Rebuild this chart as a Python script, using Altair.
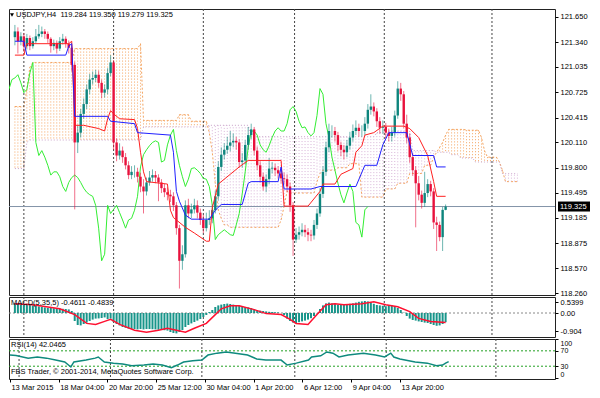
import altair as alt
import pandas as pd

# ---------------- data ----------------
closes = [121.47, 121.35, 121.41, 121.29, 121.39, 121.29, 121.35, 121.41, 121.44, 121.47,
          121.44, 121.38, 121.29, 121.33, 121.26, 121.35, 121.38, 121.32, 121.27, 121.06,
          120.11, 120.23, 120.46, 120.58, 120.76, 120.88, 120.90, 120.94, 120.84, 120.72,
          120.76, 120.96, 121.09, 120.11, 119.95, 120.01, 119.93, 119.83, 119.71, 119.75,
          119.75, 119.69, 119.57, 119.51, 119.62, 119.68, 119.71, 119.68, 119.62, 119.55,
          119.50, 119.47, 119.45, 119.34, 119.06, 118.66, 118.74, 119.34, 119.24, 119.29,
          119.34, 119.25, 119.16, 119.06, 119.16, 119.18, 119.28, 119.45, 119.81, 119.96,
          120.02, 120.07, 120.11, 120.13, 120.11, 119.87, 119.89, 120.08, 120.20, 120.27,
          120.01, 119.83, 119.69, 119.57, 119.66, 119.79, 119.80, 119.77, 119.73, 119.67,
          119.66, 119.57, 119.34, 118.92, 118.98, 119.01, 119.04, 119.01, 118.98, 118.97,
          119.10, 119.24, 119.48, 119.75, 120.05, 120.25, 120.25, 120.20, 120.08, 120.02,
          119.99, 120.07, 120.17, 120.25, 120.29, 120.25, 120.25, 120.34, 120.51, 120.55,
          120.49, 120.37, 120.29, 120.30, 120.23, 120.19, 120.23, 120.44, 120.77, 120.70,
          120.34, 120.17, 119.93, 119.77, 119.61, 119.47, 119.37, 119.49, 119.60, 119.51,
          119.13, 119.10, 118.95, 119.284, 119.325]
opens = [121.40, 121.47, 121.35, 121.41, 121.29, 121.39, 121.29, 121.35, 121.41, 121.44,
         121.47, 121.44, 121.38, 121.29, 121.33, 121.26, 121.35, 121.38, 121.32, 121.27,
         121.06, 120.11, 120.23, 120.46, 120.58, 120.76, 120.88, 120.90, 120.94, 120.84,
         120.72, 120.76, 120.96, 121.09, 120.11, 119.95, 120.01, 119.93, 119.83, 119.71,
         119.75, 119.75, 119.69, 119.57, 119.51, 119.62, 119.68, 119.71, 119.68, 119.62,
         119.55, 119.50, 119.47, 119.45, 119.34, 119.06, 118.66, 118.74, 119.34, 119.24,
         119.29, 119.34, 119.25, 119.16, 119.06, 119.16, 119.18, 119.28, 119.45, 119.81,
         119.96, 120.02, 120.07, 120.11, 120.13, 120.11, 119.87, 119.89, 120.08, 120.20,
         120.27, 120.01, 119.83, 119.69, 119.57, 119.66, 119.79, 119.80, 119.77, 119.73,
         119.67, 119.66, 119.57, 119.34, 118.92, 118.98, 119.01, 119.04, 119.01, 118.98,
         118.97, 119.10, 119.24, 119.48, 119.75, 120.05, 120.25, 120.25, 120.20, 120.08,
         120.02, 119.99, 120.07, 120.17, 120.25, 120.29, 120.25, 120.25, 120.34, 120.51,
         120.55, 120.49, 120.37, 120.29, 120.30, 120.23, 120.19, 120.23, 120.44, 120.77,
         120.70, 120.34, 120.17, 119.93, 119.77, 119.61, 119.47, 119.37, 119.49, 119.60,
         119.51, 119.13, 119.10, 118.95, 119.284]
highs = [121.55, 121.52, 121.46, 121.45, 121.44, 121.42, 121.40, 121.50, 121.55, 121.53,
         121.50, 121.47, 121.40, 121.37, 121.36, 121.40, 121.44, 121.41, 121.36, 121.30,
         121.10, 120.32, 120.52, 120.65, 120.82, 120.95, 120.98, 121.00, 120.99, 120.88,
         120.82, 121.02, 121.18, 121.12, 120.16, 120.10, 120.06, 119.98, 119.88, 119.82,
         119.83, 119.80, 119.74, 119.66, 119.68, 119.76, 119.78, 119.76, 119.72, 119.66,
         119.60, 119.56, 119.53, 119.50, 119.38, 119.10, 118.85, 119.40, 119.42, 119.36,
         119.42, 119.40, 119.30, 119.22, 119.25, 119.28, 119.35, 119.52, 119.88, 120.05,
         120.10, 120.18, 120.25, 120.22, 120.18, 120.15, 119.98, 120.14, 120.30, 120.34,
         120.30, 120.06, 119.88, 119.74, 119.72, 119.92, 119.87, 119.85, 119.82, 119.78,
         119.74, 119.72, 119.62, 119.38, 119.06, 119.08, 119.12, 119.10, 119.06, 119.04,
         119.16, 119.30, 119.55, 119.82, 120.12, 120.34, 120.32, 120.30, 120.24, 120.12,
         120.08, 120.14, 120.24, 120.33, 120.38, 120.34, 120.32, 120.42, 120.58, 120.70,
         120.60, 120.53, 120.42, 120.38, 120.35, 120.28, 120.30, 120.50, 120.86, 120.84,
         120.74, 120.45, 120.22, 119.98, 119.82, 119.70, 119.52, 119.75, 119.66, 119.64,
         119.55, 119.20, 119.14, 119.32, 119.350]
lows = [121.30, 121.20, 121.30, 121.22, 121.25, 121.24, 121.26, 121.32, 121.38, 121.40,
        121.38, 121.33, 121.21, 121.24, 121.20, 121.23, 121.31, 121.27, 121.20, 120.98,
        119.29, 119.98, 120.17, 120.40, 120.52, 120.70, 120.82, 120.85, 120.78, 120.65,
        120.66, 120.70, 120.92, 120.02, 119.88, 119.90, 119.86, 119.78, 119.66, 119.66,
        119.68, 119.62, 119.50, 119.24, 119.46, 119.58, 119.63, 119.61, 119.39, 119.49,
        119.44, 119.40, 119.38, 119.27, 118.98, 118.32, 118.55, 118.70, 119.18, 119.18,
        119.24, 119.18, 119.10, 119.00, 119.02, 119.10, 119.12, 119.24, 119.40, 119.76,
        119.90, 119.97, 120.00, 120.05, 120.02, 119.80, 119.80, 119.84, 120.02, 120.15,
        119.95, 119.77, 119.62, 119.52, 119.50, 119.60, 119.73, 119.70, 119.67, 119.61,
        119.60, 119.50, 119.26, 118.72, 118.88, 118.92, 118.96, 118.95, 118.90, 118.90,
        118.92, 119.05, 119.20, 119.43, 119.70, 119.99, 120.17, 120.12, 120.00, 119.94,
        119.90, 119.93, 120.02, 120.12, 120.20, 120.18, 120.18, 120.20, 120.28, 120.45,
        120.43, 120.30, 120.22, 120.22, 120.16, 120.12, 120.12, 120.18, 120.40, 120.62,
        120.28, 120.10, 119.86, 119.70, 119.07, 119.40, 119.30, 119.32, 119.44, 119.45,
        119.05, 118.78, 118.90, 118.78, 119.279]
bar_index = list(range(len(closes)))

# Ichimoku lines (bar index, price)
tenkan_bar = [0, 3, 4, 18, 19, 20, 23, 28, 30, 31, 32, 33, 35, 40, 41, 42, 43, 44, 51, 52,
              53, 57, 60, 64, 65, 66, 68, 72, 75, 78, 89, 90, 98, 102, 103, 107, 109, 113, 114, 116,
              117, 120, 123, 130, 132, 135, 138, 140, 141, 144]
tenkan_val = [121.18, 121.18, 121.32, 121.32, 121.35, 120.32, 120.32, 120.28, 120.25, 120.40,
              120.50, 120.46, 120.40, 120.39, 120.28, 119.99, 119.75, 119.63, 119.60, 119.28,
              119.19, 119.07, 119.00, 118.90, 118.90, 119.31, 119.60, 119.72, 119.81, 119.89,
              119.89, 119.33, 119.33, 119.51, 119.60, 119.60, 119.72, 119.79, 119.99, 120.07,
              120.20, 120.23, 120.31, 120.31, 120.28, 120.17, 119.95, 119.63, 119.45, 119.45]
kijun_bar = [0, 3, 4, 17, 18, 19, 20, 31, 32, 40, 41, 52, 53, 54, 55, 57, 59, 65, 67, 69,
             76, 78, 79, 88, 89, 90, 99, 102, 114, 117, 121, 123, 125, 131, 133, 140, 141, 144]
kijun_val = [121.35, 121.35, 121.18, 121.18, 121.29, 121.32, 120.43, 120.43, 120.37, 120.34,
             120.23, 120.20, 119.99, 119.51, 119.39, 119.22, 119.17, 119.17, 119.28, 119.35,
             119.35, 119.61, 119.63, 119.63, 119.81, 119.54, 119.54, 119.57, 119.57, 119.83,
             119.83, 120.08, 120.23, 120.23, 119.95, 119.95, 119.81, 119.81]
CHIKOU_SHIFT = 26

# Senkou spans, one value per bar (flat runs read as repeats)
span_a = ([120.55] * 4 + [120.76, 121.03] + [121.09] * 14 + [121.26] * 22 + [121.32]
          + [120.38] * 12 + [120.45] * 4 + [120.37] * 6
          + [120.23, 119.99, 119.60, 119.28, 119.18] + [119.10] * 2 + [119.07] * 17
          + [119.16, 119.33, 119.51] + [119.49] * 9 + [119.63, 119.73] + [119.77] * 5
          + [119.80] * 4 + [119.85] * 4 + [119.44] * 8 + [119.54] * 4 + [119.61] * 4 + [119.73] * 5
          + [119.83] * 3 + [119.93, 119.99, 120.05, 120.11, 120.20] + [120.27] * 6 + [120.26] * 5
          + [120.17, 120.01] + [119.93] * 4 + [119.87, 119.77] + [119.63] * 5)
span_b = ([119.79] * 4 + [120.11] + [120.14] * 38 + [120.30] * 22 + [120.32] * 14 + [120.18] * 42
          + [120.23] * 3 + [120.25] * 9 + [120.01] * 8 + [119.99] * 5 + [119.96] * 3 + [119.92] * 5
          + [119.87] * 9 + [119.73] * 6)

grid_bars = [3, 33, 63, 93.5, 123.5, 159.5]
price_ticks = [121.650, 121.340, 121.035, 120.725, 120.415, 120.110,
               119.800, 119.495, 119.185, 118.875, 118.570, 118.260]
last_price = [119.325]
header_main = "USDJPY,H4\u00a0\u00a0119.284 119.350 119.279 119.325"

macd_main = [0.48, 0.47, 0.46, 0.45, 0.42, 0.40, 0.38, 0.36, 0.33, 0.30,
             0.28, 0.26, 0.25, 0.24, 0.22, 0.22, 0.21, 0.20, 0.18, 0.10,
             -0.40, -0.60, -0.62, -0.55, -0.48, -0.40, -0.33, -0.28, -0.27, -0.25,
             -0.22, -0.30, -0.28, -0.45, -0.55, -0.62, -0.70, -0.74, -0.78, -0.80,
             -0.80, -0.82, -0.80, -0.82, -0.80, -0.80, -0.81, -0.82, -0.84, -0.85,
             -0.86, -0.88, -0.95, -1.00, -1.02, -0.95, -0.85, -0.70, -0.60, -0.52,
             -0.45, -0.38, -0.30, -0.20, -0.10, 0.05, 0.15, 0.30, 0.38, 0.42,
             0.45, 0.47, 0.45, 0.42, 0.40, 0.36, 0.33, 0.30, 0.28, 0.25,
             0.20, 0.15, 0.12, 0.10, 0.08, 0.06, 0.05, 0.04, 0.03, 0.0,
             -0.10, -0.28, -0.40, -0.48, -0.50, -0.46, -0.42, -0.38, -0.33, -0.26,
             -0.15, -0.02, 0.20, 0.38, 0.48, 0.52, 0.48, 0.45, 0.42, 0.43,
             0.44, 0.45, 0.46, 0.48, 0.52, 0.56, 0.58, 0.60, 0.58, 0.52,
             0.46, 0.40, 0.38, 0.36, 0.34, 0.40, 0.38, 0.32, 0.25, 0.15,
             0.02, -0.15, -0.28, -0.35, -0.38, -0.42, -0.45, -0.48, -0.50, -0.55,
             -0.60, -0.64, -0.62, -0.55, -0.46]
signal_bar = [0, 6, 15, 20, 24, 27, 30, 32, 35, 40, 44, 48, 51, 54, 57, 60, 64, 67, 69, 72,
              75, 80, 84, 89, 92, 94, 98, 101, 104, 107, 110, 116, 120, 124, 128, 132, 135, 139, 144]
signal_val = [0.46, 0.41, 0.21, -0.08, -0.52, -0.57, -0.42, -0.32, -0.57, -0.86,
              -0.96, -0.86, -0.76, -0.86, -0.96, -0.76, -0.52, -0.08, 0.21, 0.36,
              0.36, 0.17, -0.03, -0.08, -0.32, -0.52, -0.57, -0.08, 0.41, 0.46,
              0.41, 0.46, 0.56, 0.41, 0.31, 0.07, -0.27, -0.42, -0.48]
macd_ticks = [0.5399, 0.0, -0.904]
macd_tick_labels = ["0.5399", "0.00", "-0.904"]
header_macd = "MACD(5,35,5) -0.4611 -0.4839"

rsi_bar = [0, 2, 6, 9, 12, 15, 18, 20, 21, 25, 28, 29, 31, 34, 37, 40, 44, 47, 50, 53,
           55, 57, 60, 63, 65, 68, 71, 74, 78, 81, 84, 89, 91, 94, 98, 99, 102, 104, 106, 108,
           111, 116, 120, 123, 125, 126, 128, 133, 137, 140, 142, 143, 144]
rsi_val = [59, 58, 51, 54, 51, 46, 41, 28, 41, 46, 51, 54, 41, 38, 36, 31, 33, 36, 33, 26,
           33, 41, 44, 46, 59, 64, 67, 64, 59, 49, 46, 46, 33, 38, 46, 54, 57, 67, 64, 54,
           59, 64, 59, 54, 64, 54, 49, 41, 38, 31, 33, 38, 42.05]
rsi_levels = [70, 30]
rsi_ticks = [100, 70, 30, 0]
header_rsi = "RSI(14) 42.0465"
copyright_text = "FBS Trader, \u00a9 2001-2014, MetaQuotes Software Corp."

time_ticks = [0, 16, 32, 48, 64, 80, 96, 112, 128]
time_labels = ["13 Mar 2015", "18 Mar 04:00", "20 Mar 20:00", "25 Mar 12:00", "30 Mar 04:00",
               "1 Apr 20:00", "6 Apr 12:00", "9 Apr 04:00", "13 Apr 20:00"]

# ---------------- styling ----------------
W = 546
H_MAIN, H_MACD, H_RSI = 286, 40, 40
FONT = "Liberation Sans"
FS = 7.5
BULL, BEAR = "#0e857d", "#e8113c"
SANDY, THISTLE = "#f4a460", "#d8b4d8"
GRID_C = "#444444"


def label_expr(values, labels):
    expr = "''"
    for v, s in reversed(list(zip(values, labels))):
        expr = f"abs(datum.value - ({v})) < 1e-6 ? '{s}' : {expr}"
    return expr


xs = alt.Scale(domain=[-0.3, 178.9], nice=False, zero=False)
ys_main = alt.Scale(domain=[118.241, 121.745], nice=False, zero=False)
ys_macd = alt.Scale(domain=[-1.2, 0.8], nice=False, zero=False)
ys_rsi = alt.Scale(domain=[-3.3, 100.8], nice=False, zero=False)

# axis definitions (one object per panel, repeated in each layer so the merge keeps them)
price_axis = alt.Axis(orient="right", values=price_ticks, format=".3f", title=None,
                      tickSize=3, labelPadding=2, domain=False, grid=False, labelOverlap=False)
macd_axis = alt.Axis(orient="right", values=macd_ticks, labelExpr=label_expr(macd_ticks, macd_tick_labels),
                     title=None, tickSize=3, labelPadding=2, domain=False, grid=False, labelOverlap=False)
rsi_axis = alt.Axis(orient="right", values=rsi_ticks, title=None, tickSize=3, labelPadding=2,
                    domain=False, grid=False, labelOverlap=False, labelFontSize=7, labelFlush=6)
time_axis = alt.Axis(values=time_ticks, labelExpr=label_expr(time_ticks, time_labels), labelAlign="left",
                     labelBaseline="top", tickSize=3, labelPadding=1, labelOffset=1, domain=False, grid=False,
                     title=None, labelOverlap=False, labelFlush=False)


def X(field, axis=None):
    return alt.X(f"{field}:Q", scale=xs, axis=axis)


def YM(field):
    return alt.Y(f"{field}:Q", scale=ys_main, axis=price_axis)


def txt(text, x, y, color="black"):
    return alt.Chart(pd.DataFrame({"t": [text]})).mark_text(
        align="left", baseline="middle", font=FONT, fontSize=FS, color=color
    ).encode(x=alt.value(x), y=alt.value(y), text="t:N")


grid_df = pd.DataFrame({"g": grid_bars})


def vgrid(axis=None):
    return alt.Chart(grid_df).mark_rule(color=GRID_C, strokeDash=[2, 2], strokeWidth=1).encode(x=X("g", axis))


# ---------------- main panel ----------------
candles = pd.DataFrame({"i": bar_index, "o": opens, "h": highs, "l": lows, "c": closes})
candles["dir"] = ["up" if c >= o else "down" for o, c in zip(opens, closes)]
dir_color = alt.Color("dir:N", scale=alt.Scale(domain=["up", "down"], range=[BULL, BEAR]), legend=None)

cloud = pd.DataFrame({"i": list(range(len(span_a))), "a": span_a, "b": span_b})
cloud["kind"] = ["bull" if a >= b else "bear" for a, b in zip(span_a, span_b)]
price_df = pd.DataFrame({"p": last_price})

cloud_rules = alt.Chart(cloud).mark_rule(strokeWidth=1, strokeDash=[1, 2], clip=True).encode(
    x=X("i"), y=YM("a"), y2="b:Q",
    stroke=alt.Stroke("kind:N", scale=alt.Scale(domain=["bull", "bear"], range=[SANDY, THISTLE]), legend=None))
a_line = alt.Chart(cloud).mark_line(strokeWidth=1, strokeDash=[2, 2], color=SANDY, clip=True).encode(
    x=X("i"), y=YM("a"))
b_line = alt.Chart(cloud).mark_line(strokeWidth=1, strokeDash=[1, 2], color="#c8a0c8", clip=True).encode(
    x=X("i"), y=YM("b"))

price_line = alt.Chart(price_df).mark_rule(color="#8494a8", strokeWidth=1).encode(y=YM("p"))

chikou = alt.Chart(candles).transform_calculate(ci=f"datum.i - {CHIKOU_SHIFT}").mark_line(
    color="#33ee33", strokeWidth=1, clip=True).encode(x=X("ci"), y=YM("c"))

wicks = alt.Chart(candles).mark_rule(strokeWidth=1, opacity=0.6, clip=True).encode(
    x=X("i"), y=YM("l"), y2="h:Q", color=dir_color)
bodies = alt.Chart(candles).mark_bar(size=2.4, clip=True).encode(
    x=X("i"), y=YM("o"), y2="c:Q", color=dir_color)

tenkan = alt.Chart(pd.DataFrame({"i": tenkan_bar, "v": tenkan_val})).mark_line(
    color="#ff2020", strokeWidth=1, clip=True).encode(x=X("i"), y=YM("v"))
kijun = alt.Chart(pd.DataFrame({"i": kijun_bar, "v": kijun_val})).mark_line(
    color="#2020ff", strokeWidth=1, clip=True).encode(x=X("i"), y=YM("v"))

price_box = alt.Chart(price_df).mark_point(
    shape="M-1,-0.3125H1V0.3125H-1Z", filled=True, size=1024, color="black", opacity=1).encode(
    x=alt.value(W + 19), y=YM("p"))
price_box_text = alt.Chart(price_df).transform_calculate(t="format(datum.p, '.3f')").mark_text(
    align="left", baseline="middle", font=FONT, fontSize=FS, color="white").encode(
    x=alt.value(W + 5), y=YM("p"), text="t:N")

tri = alt.Chart(pd.DataFrame({"t": [0]})).mark_point(
    shape="triangle-down", filled=True, size=16, color="black", opacity=1).encode(
    x=alt.value(3), y=alt.value(6))

main = alt.layer(
    cloud_rules, a_line, b_line, vgrid(), price_line, chikou, wicks, bodies, tenkan, kijun,
    tri, txt(header_main, 7, 6), price_box, price_box_text
).resolve_scale(color="independent", stroke="independent").properties(width=W, height=H_MAIN)

# ---------------- MACD panel ----------------
macd_df = pd.DataFrame({"i": bar_index, "m": macd_main})
zero_line = alt.Chart(pd.DataFrame({"z": [0.0]})).mark_rule(color="#888888", strokeDash=[2, 2]).encode(
    y=alt.Y("z:Q", scale=ys_macd, axis=macd_axis))
hist = alt.Chart(macd_df).mark_bar(size=2, color="#18958a", clip=True).encode(
    x=X("i"), y=alt.Y("m:Q", scale=ys_macd, axis=macd_axis), y2=alt.datum(0))
signal = alt.Chart(pd.DataFrame({"i": signal_bar, "v": signal_val})).mark_line(
    color="#ff1030", strokeWidth=1.5, clip=True).encode(
    x=X("i"), y=alt.Y("v:Q", scale=ys_macd, axis=macd_axis))
macd = alt.layer(zero_line, vgrid(), hist, signal, txt(header_macd, 2, 6)).properties(width=W, height=H_MACD)

# ---------------- RSI panel ----------------
levels = alt.Chart(pd.DataFrame({"r": rsi_levels})).mark_rule(color="#22a022", strokeDash=[2, 2]).encode(
    y=alt.Y("r:Q", scale=ys_rsi, axis=rsi_axis))
rsi_line = alt.Chart(pd.DataFrame({"i": rsi_bar, "v": rsi_val})).mark_line(
    color="#0f8a7e", strokeWidth=1.5, clip=True).encode(
    x=X("i", time_axis), y=alt.Y("v:Q", scale=ys_rsi, axis=rsi_axis))
rsi = alt.layer(levels, vgrid(time_axis), rsi_line, txt(header_rsi, 2, 6), txt(copyright_text, 2, 33)).properties(
    width=W, height=H_RSI)

chart = alt.vconcat(main, macd, rsi, spacing=2, bounds="flush").properties(
    padding={"left": 0, "top": 0, "right": 0, "bottom": 0}
).configure(font=FONT).configure_view(stroke="#222222", strokeWidth=1).configure_axis(
    labelFont=FONT, labelFontSize=FS, labelColor="black", tickColor="black"
)

chart.save("out.html", embed_options={"renderer": "svg", "actions": False})
